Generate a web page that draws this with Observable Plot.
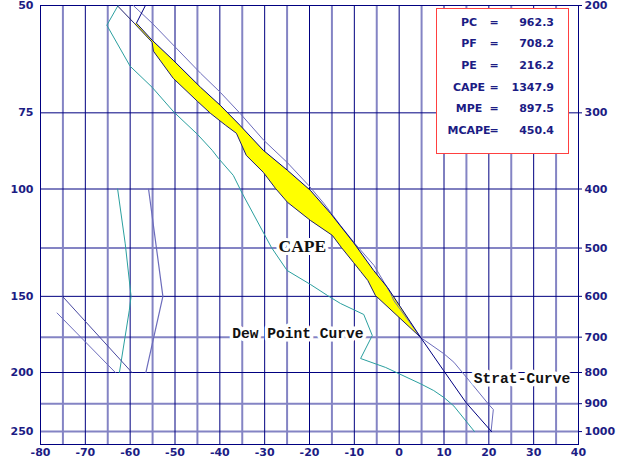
<!DOCTYPE html>
<html><head><meta charset="utf-8">
<script src="https://cdn.jsdelivr.net/npm/d3@7"></script>
<script src="https://cdn.jsdelivr.net/npm/@observablehq/plot@0.6"></script>
<style>
body{margin:0;background:#fff;}
#wrap{position:relative;width:625px;height:459px;overflow:hidden;}
#legend{position:absolute;left:436px;top:8px;width:133px;height:146px;box-sizing:border-box;border:1.5px solid #ff4040;background:#fff;font-family:"DejaVu Sans",sans-serif;font-weight:bold;font-size:11px;color:#1c1c84;}
#legend .c{position:absolute;height:14px;line-height:14px;white-space:nowrap;}
</style></head><body><div id="wrap"></div>
<script>
// ---- axis / grid values ----
const xTicks = [-80,-70,-60,-50,-40,-30,-20,-10,0,10,20,30,40];
const darkT = [-70,-60,-50,-40,-30,-20,-10,0,10,20,30];
const lightT = [-75,-65,-55,-45,-35,-25,-15,-5,5,15,25,35];
const pressureTicks = [200,300,400,500,600,700,800,900,1000];
const leftTicks = [200,300,400,600,800,1000];
const leftLabels = [50,75,100,150,200,250];
const darkP = [300,400,600,800];
const lightP = [500,700,900,1000];

// ---- curves (temperature °C, pressure hPa) ----
const curveAT = [-62.9,-59.1,-55.1,-54.8,-50.4,-45.0,-42.1,-38.7,-36.3,-34.1,-30.3,-27.6,-24.9,-19.8,-14.9,-12.9,-10.2,-8.6,-7.0,-5.3,4.8];
const curveAP = [200,213.8,229.8,237.7,263.3,287.2,300.5,314.5,324.1,352.3,375.6,399,420.7,450.4,476.6,498.7,527.8,546.1,565,598,700.9];

const curveBT = [-56.6,-58.6,-55.1,-50.4,-44.3,-39.9,-35.5,-30.3,-24.9,-19.8,-15.3,-10.2,-5.7,-2.6,4.8,9.9,14.9,20.6];
const curveBP = [200,213.8,228,245.9,272.4,291.6,314.5,345.6,372.8,402.1,438.6,489.4,544,580.2,700.9,794,896,1000];

const stratT = [-59.3,-55.1,-44.3,-39.9,-35.5,-30.2,-25.0,-20.2,-16.8,-13.1,-10.1,-5.6,-1.9,-1.2,4.8,10.0,12.2,15.6,20.0,21.0,20.5];
const stratP = [200,213.8,258.3,277.6,300.5,332.8,361.7,394.5,422.3,459,489.4,533.9,593.5,609.4,700.9,745.5,769.5,824.6,903,920,1000];

const dewT = [-62.7,-65.2,-60.0,-55.1,-50.2,-45.0,-41.7,-40.3,-37.0,-35.0,-28.5,-25.0,-19.8,-16.0,-13.1,-7.9,-6.0,-8.6,-3.0,4.8,7.7,10.0,12.2,16.8];
const dewP = [200,215.5,251.6,272.4,299.4,325.3,345.6,356.3,379.9,406.7,498.7,544.1,573.6,598,616.3,642.5,695.6,758.8,785,835,856.4,879.4,908,1000];

// small curves on the left
const smallTealT = [-62.8,-61.1,-59.8,-60.2,-62.4];
const smallTealP = [400,492,600,633,800];
const smallPurpleT = [-55.9,-52.7,-56.5];
const smallPurpleP = [400,600,800];
const diag1T = [-75.1,-59.6];
const diag1P = [600,800];
const diag2T = [-76.3,-63.3];
const diag2P = [639,800];

// ---- labels ----
const curveLabels = ["Dew Point Curve","Strat-Curve"];
const curveLabelT = [-22.6,27.4];
const curveLabelP = [690,819];
const capeLabel = ["CAPE"];
const capeLabelT = [-21.6];
const capeLabelP = [497];

// ---- stats box ----
const statNames = ["PC","PF","PE","CAPE","MPE","MCAPE"];
const statValues = ["962.3","708.2","216.2","1347.9","897.5","450.4"];

const zip = (T, P) => T.map((t, i) => ({T: t, p: P[i]}));
const A = zip(curveAT, curveAP), B = zip(curveBT, curveBP);
const capePoly = [
  ...A.filter(d => d.p >= 213 && d.p <= 701),
  ...B.filter(d => d.p >= 213 && d.p <= 701).reverse()
];

const navy = "#000080", purple = "#6c6cbc", teal = "#2a9f9f";
const chart = Plot.plot({
  width: 625, height: 459,
  marginLeft: 40, marginRight: 47, marginTop: 5, marginBottom: 15,
  x: {domain: [-80, 40]},
  y: {type: "log", domain: [1050, 200]},
  style: {fontFamily: "DejaVu Sans", fontSize: "11px", fontWeight: "bold", color: "#1c1c84", background: "#fff", overflow: "visible"},
  marks: [
    Plot.ruleX(lightT, {stroke: "#8484c4", strokeWidth: 2}),
    Plot.ruleY(lightP, {stroke: "#8484c4", strokeWidth: 2}),
    Plot.ruleX(darkT, {stroke: navy, strokeWidth: 1}),
    Plot.ruleY(darkP, {stroke: navy, strokeWidth: 1}),
    Plot.frame({stroke: navy}),
    Plot.axisX(xTicks, {anchor: "bottom", tickSize: 0, tickPadding: 4, label: null, tickFormat: d => String(d)}),
    Plot.axisY(leftTicks, {anchor: "left", tickSize: 0, tickPadding: 7, label: null, tickFormat: d => String(leftLabels[leftTicks.indexOf(d)])}),
    Plot.axisY(pressureTicks, {anchor: "right", tickSize: 3, tickPadding: 3, label: null, stroke: navy, tickFormat: d => String(d)}),
    Plot.line(capePoly, {x: "T", y: "p", fill: "#ffff00", stroke: "none"}),
    Plot.line(zip(dewT, dewP), {x: "T", y: "p", stroke: teal, strokeWidth: 1}),
    Plot.line(zip(stratT, stratP), {x: "T", y: "p", stroke: purple, strokeWidth: 1}),
    Plot.line(A, {x: "T", y: "p", stroke: "#20206e", strokeWidth: 1}),
    Plot.line(B, {x: "T", y: "p", stroke: navy, strokeWidth: 1}),
    Plot.line(zip(smallTealT, smallTealP), {x: "T", y: "p", stroke: teal, strokeWidth: 1}),
    Plot.line(zip(smallPurpleT, smallPurpleP), {x: "T", y: "p", stroke: purple, strokeWidth: 1.2}),
    Plot.line(zip(diag1T, diag1P), {x: "T", y: "p", stroke: "#4848a0", strokeWidth: 1}),
    Plot.line(zip(diag2T, diag2P), {x: "T", y: "p", stroke: purple, strokeWidth: 1}),
    Plot.text(curveLabels.map((t, i) => ({t, T: curveLabelT[i], p: curveLabelP[i]})), {
      x: "T", y: "p", text: "t", fontFamily: "Liberation Mono", fontSize: 14.6, fontWeight: "bold",
      fill: "#111", stroke: "white", strokeWidth: 7, paintOrder: "stroke"
    }),
    Plot.text(capeLabel.map((t, i) => ({t, T: capeLabelT[i], p: capeLabelP[i]})), {
      x: "T", y: "p", text: "t", fontFamily: "Liberation Serif", fontSize: 17.5,
      fill: "#111", stroke: "white", strokeWidth: 6, paintOrder: "stroke"
    })
  ]
});
const wrap = document.getElementById("wrap");
wrap.appendChild(chart);

const legend = document.createElement("div");
legend.id = "legend";
statNames.forEach((name, i) => {
  const top = 6.8 + i * 21.6;
  const n = document.createElement("div");
  n.className = "c"; n.style.top = top + "px"; n.style.left = "10px"; n.style.width = "44px"; n.style.textAlign = "center";
  n.textContent = name;
  const e = document.createElement("div");
  e.className = "c"; e.style.top = top + "px"; e.style.left = "51px"; e.style.width = "12px"; e.style.textAlign = "center";
  e.textContent = "=";
  const v = document.createElement("div");
  v.className = "c"; v.style.top = top + "px"; v.style.right = "14px"; v.style.textAlign = "right";
  v.textContent = statValues[i];
  legend.append(n, e, v);
});
wrap.appendChild(legend);
</script>
</body></html>
